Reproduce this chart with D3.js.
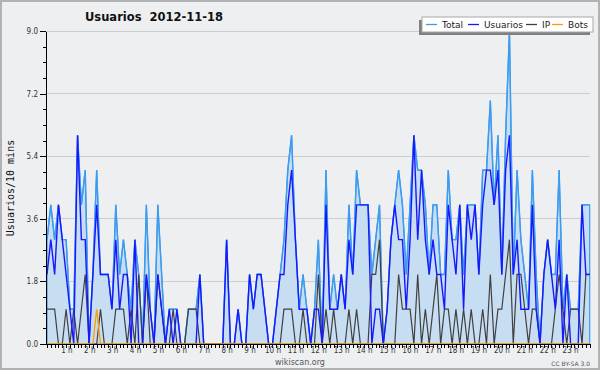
<!DOCTYPE html>
<html><head><meta charset="utf-8">
<script src="https://cdn.jsdelivr.net/npm/d3@7"></script>
<style>
html,body{margin:0;padding:0;background:#eeeff1;}
svg{display:block;font-family:"DejaVu Sans",Verdana,sans-serif;}
</style></head><body>
<svg id="c" width="600" height="370"></svg>
<script>
const titleText = "Usuarios  2012-11-18";
const yTitle = "Usuarios/10 mins";
const seriesNames = ["Total", "Usuarios", "IP", "Bots"];
const hourLabels = ["1 h","2 h","3 h","4 h","5 h","6 h","7 h","8 h","9 h","10 h","11 h","12 h","13 h","14 h","15 h","16 h","17 h","18 h","19 h","20 h","21 h","22 h","23 h"];
const yTicks = [0, 1.8, 3.6, 5.4, 7.2, 9.0];

const total = [3,4,3,4,3,3,1,1,6,4, 5,0,2,5,2,2,2,1,4,2, 3,2,1,3,2,0,4,1,0,4,
 2,0,1,1,1,0,0,1,1,1, 2,0,0,0,0,0,0,3,0,0, 1,0,0,2,1,2,2,1,0,0,
 1,2,3,5,6,3,1,2,1,0, 1,3,0,5,1,2,1,2,1,4, 2,5,4,4,4,2,3,4,0,1,
 3,4,5,4,2,4,6,5,5,4, 2,4,4,2,2,5,3,3,4,2, 4,4,4,2,5,5,7,4,6,2,
 6,9,2,5,3,2,1,5,2,0, 2,3,2,2,5,1,2,1,1,1, 4,4,4];
const usuarios = [2,3,2,4,3,2,1,0,6,3, 3,0,2,4,2,2,2,1,3,1, 2,2,0,3,0,0,2,1,0,2,
 1,0,1,0,1,0,0,0,0,0, 2,0,0,0,0,0,0,3,0,0, 1,0,0,2,1,2,2,1,0,0,
 1,2,2,4,5,3,1,1,1,0, 1,1,0,4,1,1,1,2,1,3, 2,4,4,4,4,0,1,1,0,1,
 3,4,3,3,1,3,6,3,5,3, 2,3,2,2,1,4,3,2,4,1, 4,3,4,2,4,5,5,4,5,2,
 5,6,2,3,1,1,1,4,1,0, 2,3,2,1,3,0,2,0,0,0, 4,2,2];
const ip = [1,1,1,0,0,1,0,1,0,1, 2,0,0,0,1,0,0,0,1,1, 1,0,1,0,2,0,2,0,0,2,
 1,0,0,1,0,0,0,1,1,1, 0,0,0,0,0,0,0,0,0,0, 0,0,0,0,0,0,0,0,0,0,
 0,0,1,1,1,0,0,1,0,0, 0,2,0,1,0,1,0,0,0,1, 0,1,0,0,0,2,2,3,0,0,
 0,0,2,1,1,1,0,2,0,1, 0,1,2,0,1,1,0,1,0,1, 0,1,0,0,1,0,2,0,1,1,
 2,3,0,2,2,1,0,1,1,0, 0,0,0,1,2,1,0,1,1,1, 0,2,2];
const bots = [0,0,0,0,0,0,0,0,0,0, 0,0,0,1,0,0,0,0,0,0, 0,0,0,0,0,0,0,0,0,0,
 0,0,0,0,0,0,0,0,0,0, 0,0,0,0,0,0,0,0,0,0, 0,0,0,0,0,0,0,0,0,0,
 0,0,0,0,0,0,0,0,0,0, 0,0,0,0,0,0,0,0,0,0, 0,0,0,0,0,0,0,0,0,0,
 0,0,0,0,0,0,0,0,0,0, 0,0,0,0,0,0,0,0,0,0, 0,0,0,0,0,0,0,0,0,0,
 0,0,0,0,0,0,0,0,0,0, 0,0,0,0,0,0,0,0,0,0, 0,0,0];

const colors = {Total:"#3d9bf0", Usuarios:"#1818ff", IP:"#404040", Bots:"#ff9a00"};
const fillColor = "#c7ddf1";

const svg = d3.select("#c");
svg.append("rect").attr("x",1).attr("y",1).attr("width",598).attr("height",368)
  .attr("fill","#eeeff1").attr("stroke","#b2b2b2").attr("stroke-width",2);

const x = d3.scaleLinear().domain([0, total.length-1]).range([47, 589.7]);
const xh = d3.scaleLinear().domain([0, 24]).range([43.5, 593]);
const y = d3.scaleLinear().domain([0, 9]).range([344, 31]);

// gridlines
svg.append("g").selectAll("line").data(yTicks.filter(d=>d>0)).join("line")
  .attr("x1",46).attr("x2",590).attr("y1",d=>y(d)).attr("y2",d=>y(d))
  .attr("stroke","#cdcdcd").attr("stroke-width",1).attr("shape-rendering","crispEdges");

// area + lines
const area = d3.area().x((d,i)=>x(i)).y0(y(0)).y1(d=>y(d));
const line = d3.line().x((d,i)=>x(i)).y(d=>y(d));
svg.append("path").datum(total).attr("d",area).attr("fill",fillColor)
  .attr("stroke",colors.Total).attr("stroke-width",1.2);
svg.append("path").datum(total).attr("d",line).attr("fill","none").attr("stroke",colors.Total).attr("stroke-width",1.4);
svg.append("path").datum(ip).attr("d",line).attr("fill","none").attr("stroke",colors.IP).attr("stroke-width",1.2);
svg.append("path").datum(usuarios).attr("d",line).attr("fill","none").attr("stroke",colors.Usuarios).attr("stroke-width",1.4);
svg.append("path").datum(bots).attr("d",line).attr("fill","none").attr("stroke",colors.Bots).attr("stroke-width",1.3);

// y axis
const yAxisMinor = d3.axisLeft(y).tickValues(d3.range(0, 9.001, 0.45)).tickFormat("").tickSize(3).tickSizeOuter(0);
const yAxis = d3.axisLeft(y).tickValues(yTicks).tickFormat(d3.format(".1f")).tickSize(6).tickSizeOuter(0).tickPadding(2);
const gym = svg.append("g").attr("transform","translate(46,0)").call(yAxisMinor);
const gy = svg.append("g").attr("transform","translate(46,0)").call(yAxis);
gy.selectAll("text").attr("font-family","'DejaVu Sans Condensed','DejaVu Sans',sans-serif").attr("font-size",8).attr("fill","#333");
[gy, gym].forEach(g=>{g.selectAll("line").attr("stroke","#000").attr("shape-rendering","crispEdges"); g.select(".domain").attr("stroke","#000").attr("shape-rendering","crispEdges");});

// x axis: ticks each 10 min
const xAxis = d3.axisBottom(x).tickValues(d3.range(0, total.length)).tickFormat("").tickSize(4).tickSizeOuter(0);
const gx = svg.append("g").attr("transform","translate(0,344)").call(xAxis);
gx.select(".domain").attr("d","M46,0H590").attr("stroke","#000").attr("shape-rendering","crispEdges");
gx.selectAll("line").attr("stroke","#000").attr("shape-rendering","crispEdges");
const hourAxis = d3.axisBottom(xh).tickValues(d3.range(1,24)).tickFormat(h=>hourLabels[h-1]).tickSize(0).tickPadding(3);
const gh = svg.append("g").attr("transform","translate(0,344)").call(hourAxis);
gh.select(".domain").remove();
gh.selectAll("text").attr("font-family","'DejaVu Sans Condensed','DejaVu Sans',sans-serif").attr("font-size",8).attr("fill","#333");

// title
svg.append("text").attr("x",85).attr("y",21).attr("font-size",11.5).attr("font-weight","bold")
  .style("white-space","pre").attr("fill","#111").text(titleText);

// y title
svg.append("text").attr("transform","translate(14,188) rotate(-90)").attr("text-anchor","middle")
  .attr("font-family","'DejaVu Sans Mono',monospace").attr("font-size",10).attr("fill","#111").text(yTitle);

// legend
const lg = svg.append("g");
lg.append("rect").attr("x",419).attr("y",20).attr("width",171).attr("height",15).attr("fill","#808080");
lg.append("rect").attr("x",422).attr("y",17).attr("width",171).attr("height",15).attr("fill","#fff").attr("stroke","#a8a8a8").attr("stroke-width",1);
const legendX = [426, 468, 526, 552];
seriesNames.forEach((n,k)=>{
  lg.append("line").attr("x1",legendX[k]).attr("x2",legendX[k]+11).attr("y1",24.5).attr("y2",24.5)
    .attr("stroke",colors[n]).attr("stroke-width",1.3);
  lg.append("text").attr("x",legendX[k]+16).attr("y",28).attr("font-size",9).attr("fill","#222").text(n);
});

// footer
svg.append("text").attr("x",300).attr("y",365).attr("text-anchor","middle").attr("font-size",8).attr("fill","#555").text("wikiscan.org");
svg.append("text").attr("x",590).attr("y",366).attr("text-anchor","end").attr("font-size",6).attr("fill","#555").text("CC BY-SA 3.0");
</script>
</body></html>
